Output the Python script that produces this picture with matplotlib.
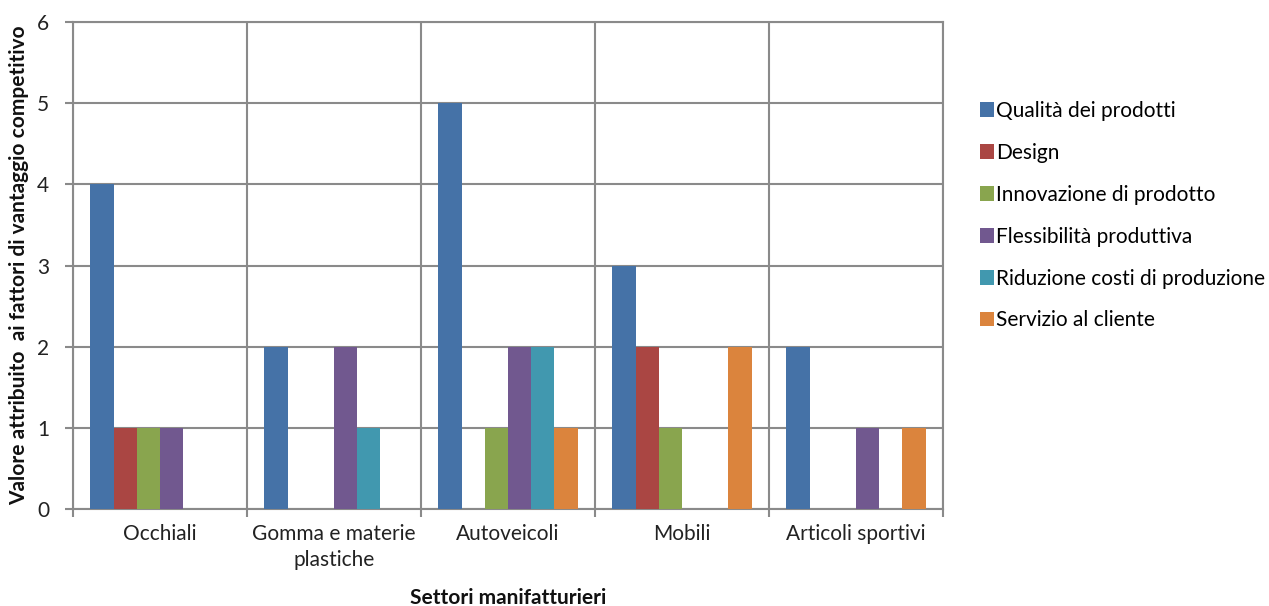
import numpy as np
import matplotlib
matplotlib.use("Agg")
import matplotlib.pyplot as plt

plt.rcParams['font.family'] = ['Lato', 'DejaVu Sans']

categories = ["Occhiali", "Gomma e materie\nplastiche", "Autoveicoli", "Mobili", "Articoli sportivi"]
series_names = ["Qualità dei prodotti", "Design", "Innovazione di prodotto",
                "Flessibilità produttiva", "Riduzione costi di produzione", "Servizio al cliente"]
qualita = [4, 2, 5, 3, 2]
design = [1, 0, 0, 2, 0]
innovazione = [1, 0, 1, 1, 0]
flessibilita = [1, 2, 2, 0, 1]
riduzione_costi = [0, 1, 2, 0, 0]
servizio = [0, 0, 1, 2, 1]
series_values = [qualita, design, innovazione, flessibilita, riduzione_costi, servizio]
colors = ["#4572A7", "#AA4643", "#89A54E", "#71588F", "#4198AF", "#DB843D"]
y_ticks = [0, 1, 2, 3, 4, 5, 6]

fig = plt.figure(figsize=(12.69, 6.06), dpi=100)
ax = fig.add_axes([73 / 1269, 97 / 606, 870 / 1269, 487 / 606])

n = len(series_values)
group_w = 0.8
bw = group_w / n
x = np.arange(len(categories))
for i, (name, vals, col) in enumerate(zip(series_names, series_values, colors)):
    pos = x - group_w / 2 + bw * (i + 0.5)
    ax.bar(pos, vals, width=bw, color=col, label=name, zorder=3, linewidth=0)

grid_col = "#8A8A8A"
text_col = "#222222"
ax.set_xlim(-0.5, len(categories) - 0.5)
ax.set_ylim(0, 6)
ax.set_yticks(y_ticks)
ax.set_xticks(x)
ax.set_xticklabels(categories, fontsize=15, color=text_col, linespacing=1.35)
ax.set_xticks(np.arange(-0.5, len(categories)), minor=True)
ax.tick_params(axis='x', which='major', length=0, pad=11)
ax.tick_params(axis='x', which='minor', length=6, width=1.5, color=grid_col)
ax.tick_params(axis='y', length=6, width=1.5, color=grid_col, labelsize=15,
               labelcolor=text_col, pad=11)
ax.grid(axis='y', which='major', color=grid_col, linewidth=1.5, zorder=0)
ax.grid(axis='x', which='minor', color=grid_col, linewidth=1.5, zorder=0)
for s in ax.spines.values():
    s.set_color(grid_col)
    s.set_linewidth(1.5)

fig.text(19 / 1269, 1 - 265 / 606, "Valore attribuito  ai fattori di vantaggio competitivo",
         rotation=90, ha='center', va='center', fontsize=15, fontweight='bold',
         color="#111111")
fig.text(508 / 1269, 1 - 598 / 606, "Settori manifatturieri", ha='center', va='center',
         fontsize=15, fontweight='bold', color="#111111")

fig.legend(loc='center left', bbox_to_anchor=(0.772, 0.644), frameon=False,
           fontsize=15, handlelength=0.7, handleheight=0.7, handletextpad=0.1,
           labelspacing=1.05, borderpad=0, borderaxespad=0)

fig.savefig("out.png", dpi=100)
